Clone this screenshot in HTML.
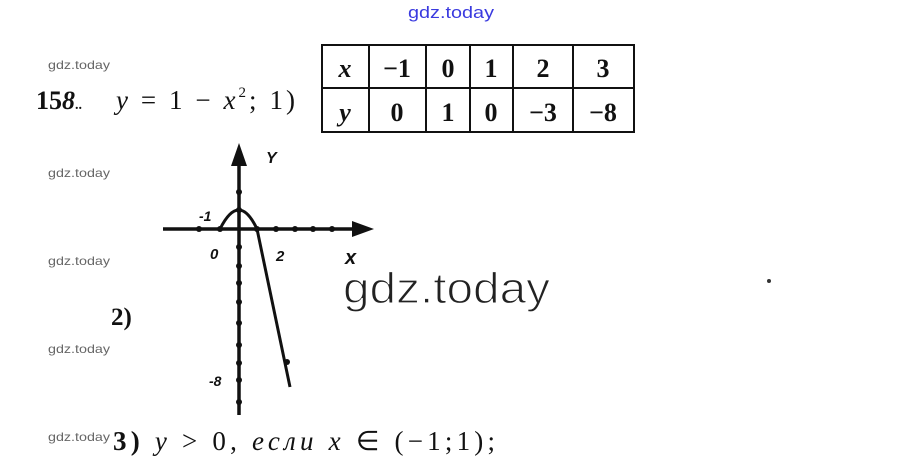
<!DOCTYPE html>
<html><head><meta charset="utf-8"><style>
html,body{margin:0;padding:0;background:#fff;width:900px;height:469px;overflow:hidden}
svg{display:block}
.w{font-family:"Liberation Sans",sans-serif;font-size:12px;fill:#666}
.s{font-family:"Liberation Serif",serif;fill:#111}
.g{font-family:"Liberation Sans",sans-serif;font-style:italic;font-weight:bold;fill:#111}
</style></head><body>
<svg width="900" height="469" viewBox="0 0 900 469" xmlns="http://www.w3.org/2000/svg">
<text x="408" y="18" font-family="Liberation Sans,sans-serif" font-size="17" fill="#3a3adf" textLength="86" lengthAdjust="spacingAndGlyphs">gdz.today</text>
<text class="w" x="48" y="69" textLength="62" lengthAdjust="spacingAndGlyphs">gdz.today</text>
<text class="w" x="48" y="177" textLength="62" lengthAdjust="spacingAndGlyphs">gdz.today</text>
<text class="w" x="48" y="265" textLength="62" lengthAdjust="spacingAndGlyphs">gdz.today</text>
<text class="w" x="48" y="353" textLength="62" lengthAdjust="spacingAndGlyphs">gdz.today</text>
<text class="w" x="48" y="441" textLength="62" lengthAdjust="spacingAndGlyphs">gdz.today</text>
<text class="s" x="36" y="109" font-size="26" font-weight="bold">15<tspan font-style="italic">8</tspan><tspan font-size="14">..</tspan></text>
<text class="s" x="116" y="109" font-size="27" textLength="179" lengthAdjust="spacing"><tspan font-style="italic">y</tspan> = 1 − <tspan font-style="italic">x</tspan><tspan font-size="15" dy="-12">2</tspan><tspan dy="12">;  1)</tspan></text>
<g stroke="#111" stroke-width="2" fill="none">
<rect x="322" y="45" width="312" height="87"/>
<line x1="322" y1="88" x2="634" y2="88"/>
<line x1="369" y1="45" x2="369" y2="132"/>
<line x1="426" y1="45" x2="426" y2="132"/>
<line x1="470" y1="45" x2="470" y2="132"/>
<line x1="513" y1="45" x2="513" y2="132"/>
<line x1="573" y1="45" x2="573" y2="132"/>
</g>
<g class="s" font-size="26" text-anchor="middle" font-weight="bold">
<text x="345" y="77" font-style="italic">x</text><text x="397" y="77">−1</text><text x="448" y="77">0</text><text x="491" y="77">1</text><text x="543" y="77">2</text><text x="603" y="77">3</text>
<text x="345" y="121" font-style="italic">y</text><text x="397" y="121">0</text><text x="448" y="121">1</text><text x="491" y="121">0</text><text x="543" y="121">−3</text><text x="603" y="121">−8</text>
</g>
<g stroke="#111" stroke-width="3.5" fill="none">
<line x1="239" y1="160" x2="239" y2="415"/>
<line x1="163" y1="229" x2="358" y2="229"/>
<path d="M220,229 Q239,191 257,229 L290,387" stroke-width="3"/>
</g>
<polygon points="239,143 231,166 247,166" fill="#111"/>
<polygon points="374,229 352,221 352,237" fill="#111"/>
<g fill="#111">
<circle cx="199" cy="229" r="3"/><circle cx="220" cy="229" r="3"/><circle cx="257" cy="229" r="3"/><circle cx="276" cy="229" r="3"/><circle cx="295" cy="229" r="3"/><circle cx="313" cy="229" r="3"/><circle cx="332" cy="229" r="3"/>
<circle cx="239" cy="192" r="3"/><circle cx="239" cy="210" r="3"/><circle cx="239" cy="247" r="3"/><circle cx="239" cy="266" r="3"/><circle cx="239" cy="283" r="3"/><circle cx="239" cy="302" r="3"/><circle cx="239" cy="323" r="3"/><circle cx="239" cy="345" r="3"/><circle cx="239" cy="363" r="3"/><circle cx="239" cy="380" r="3"/><circle cx="239" cy="402" r="3"/>
<circle cx="287" cy="362" r="3"/>
</g>
<text class="g" x="266" y="163" font-size="16">Y</text>
<text class="g" x="199" y="221" font-size="14">-1</text>
<text class="g" x="210" y="259" font-size="15">0</text>
<text class="g" x="276" y="261" font-size="15">2</text>
<text class="g" x="345" y="264" font-size="20">x</text>
<text class="g" x="209" y="386" font-size="14">-8</text>
<text x="343" y="303" font-family="Liberation Sans,sans-serif" font-size="44" fill="#222" stroke="#fff" stroke-width="1.2" textLength="207" lengthAdjust="spacingAndGlyphs">gdz.today</text>
<text class="s" x="111" y="325" font-size="25" font-weight="bold">2)</text>
<text class="s" x="113" y="450" font-size="27" textLength="382" lengthAdjust="spacing"><tspan font-weight="bold">3)</tspan>  <tspan font-style="italic">y</tspan> &gt; 0, <tspan font-style="italic" font-family="Liberation Serif,serif">если</tspan>   <tspan font-style="italic">x</tspan> ∈ (−1;1);</text>
<circle cx="769" cy="281" r="2" fill="#333"/>
</svg>
</body></html>
